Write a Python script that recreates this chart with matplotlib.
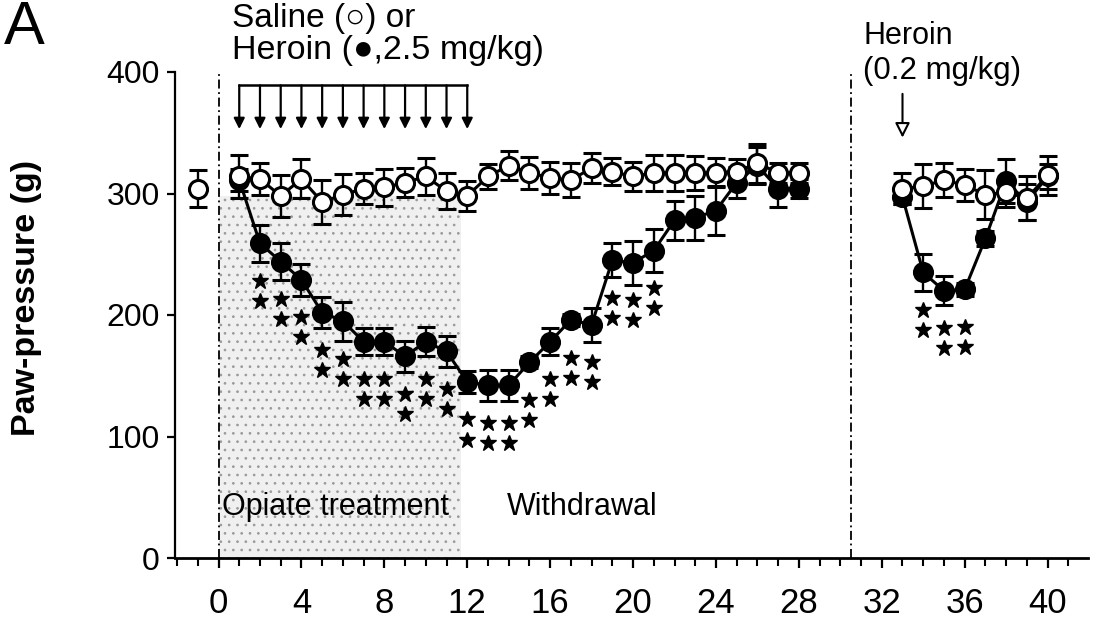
import matplotlib
matplotlib.use("Agg")
import matplotlib.pyplot as plt
import numpy as np

plt.rcParams['font.family'] = ['Liberation Sans', 'DejaVu Sans']
plt.rcParams['hatch.linewidth'] = 0.7

# ---- data ----
days_pre = [-1]
saline_pre = [304]
saline_pre_err = [15]

days1 = list(range(1, 29))
saline1 = [314, 312, 298, 312, 293, 299, 304, 305, 309, 314, 302, 298, 314, 323,
           317, 313, 311, 321, 318, 314, 317, 317, 317, 317, 318, 325, 317, 317]
saline1_err = [18, 13, 17, 16, 18, 17, 13, 15, 12, 15, 15, 12, 10, 12,
               13, 13, 14, 12, 11, 12, 15, 15, 14, 12, 10, 16, 8, 8]
heroin1 = [311, 259, 244, 229, 202, 195, 178, 178, 166, 178, 170, 145, 142, 142,
           161, 178, 196, 192, 245, 243, 253, 278, 280, 286, 309, 323, 304, 304]
heroin1_err = [9, 15, 15, 13, 13, 16, 11, 11, 13, 12, 13, 9, 13, 13,
               5, 11, 5, 14, 14, 18, 18, 16, 18, 20, 13, 15, 15, 8]

days2 = list(range(33, 41))
saline2 = [304, 306, 311, 307, 299, 301, 296, 315]
saline2_err = [13, 18, 14, 13, 20, 12, 18, 16]
heroin2 = [297, 235, 220, 221, 263, 310, 293, 314]
heroin2_err = [6, 15, 12, 5, 6, 18, 15, 10]

star_days = list(range(2, 22)) + [34, 35, 36]
star_counts = [2] * 20 + [2, 2, 2]

injection_days = list(range(1, 13))
challenge_day = 33

x_ticks = list(range(0, 41, 4))
y_ticks = [0, 100, 200, 300, 400]

# ---- figure ----
W, H = 1104, 629
fig = plt.figure(figsize=(W / 100, H / 100), dpi=100)
ax = fig.add_axes([175 / W, 1 - 558 / H, (1088 - 175) / W, (558 - 72) / H])
ax.set_xlim(-2.1, 41.95)
ax.set_ylim(0, 400)

# shaded opiate-treatment period
ax.fill_between([0, 11.7], 0, 298, facecolor='#f0f0f0', edgecolor='#999999',
                hatch='..', linewidth=0, zorder=0)

# dash-dot separators
ax.axvline(0, color='black', lw=1.3, ls=(0, (5, 2, 1, 2)), zorder=1)
ax.axvline(30.5, color='black', lw=1.3, ls=(0, (5, 2, 1, 2)), zorder=1)

mk = 13
common = dict(color='black', lw=2.2, elinewidth=1.7, capsize=6.5, capthick=2.4,
              markersize=mk, markeredgewidth=2.2)

for d, m, e in [(days1, heroin1, heroin1_err), (days2, heroin2, heroin2_err)]:
    ax.errorbar(d, m, yerr=e, fmt='-o', mfc='black', mec='black', zorder=3, **common)
for d, m, e in [(days1, saline1, saline1_err), (days2, saline2, saline2_err),
                (days_pre, saline_pre, saline_pre_err)]:
    ax.errorbar(d, m, yerr=e, fmt='-o', mfc='white', mec='black', zorder=4, **common)

# significance stars below heroin points
heroin_lookup = dict(zip(days1 + days2, heroin1 + heroin2))
for d, n in zip(star_days, star_counts):
    ys = [heroin_lookup[d] - 31 - 16.5 * k for k in range(n)]
    ax.plot([d] * n, ys, ls='none', marker='*', color='black', markersize=12, zorder=3)

# injection arrows
ax.plot([injection_days[0], injection_days[-1]], [389, 389], color='black', lw=1.8,
        clip_on=False)
for d in injection_days:
    ax.annotate('', xy=(d, 353), xytext=(d, 389),
                arrowprops=dict(arrowstyle='-|>', color='black', lw=1.6,
                                mutation_scale=16, shrinkA=0, shrinkB=0))

# heroin challenge arrow
ax.annotate('', xy=(challenge_day, 346), xytext=(challenge_day, 382),
            arrowprops=dict(arrowstyle='-|>', fc='white', ec='black', lw=1.5,
                            mutation_scale=22, shrinkA=0, shrinkB=0))

# texts
ax.text(0.66, 444, 'Saline (○) or', fontsize=24, va='center', ha='left', clip_on=False)
ax.text(0.66, 418, 'Heroin (●,2.5 mg/kg)', fontsize=24.5, va='center', ha='left',
        clip_on=False)
ax.text(31.1, 430, 'Heroin', fontsize=22, va='center', ha='left', clip_on=False)
ax.text(31.1, 401, '(0.2 mg/kg)', fontsize=22.5, va='center', ha='left', clip_on=False)
ax.text(0.15, 42, 'Opiate treatment', fontsize=22, va='center', ha='left')
ax.text(13.9, 42, 'Withdrawal', fontsize=22, va='center', ha='left')

fig.text(4 / W, 1.0, 'A', fontsize=44, ha='left', va='top')
fig.text(27 / W, 1 - 298 / H, 'Paw-pressure (g)', fontsize=24.5, fontweight='bold',
         rotation=90, ha='center', va='center')

# axes styling
for s in ['top', 'right']:
    ax.spines[s].set_visible(False)
ax.spines['left'].set_linewidth(1.6)
ax.spines['bottom'].set_linewidth(2.0)
ax.set_xticks(x_ticks)
ax.set_xticks(range(-2, 42), minor=True)
ax.set_yticks(y_ticks)
ax.tick_params(axis='x', which='major', length=7, width=1.6, labelsize=25, pad=14)
ax.tick_params(axis='x', which='minor', length=5.5, width=1.5)
ax.tick_params(axis='y', which='major', length=6, width=1.6, labelsize=23, pad=5)

fig.savefig('out.png', dpi=100)
